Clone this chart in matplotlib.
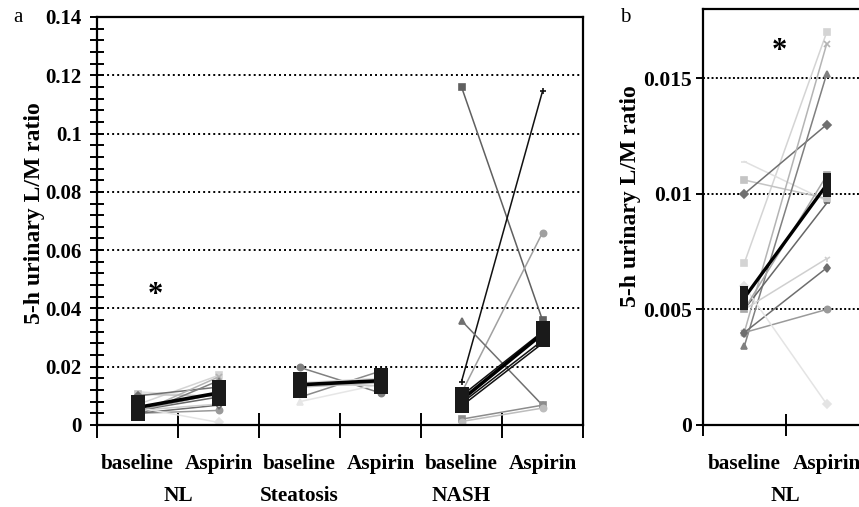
import numpy as np
import matplotlib
matplotlib.use('Agg')
import matplotlib.pyplot as plt
from matplotlib.path import Path
from matplotlib.ticker import MultipleLocator
import matplotlib.transforms as mtransforms

plt.rcParams['font.family'] = ['Liberation Serif', 'DejaVu Serif']

# Individual subjects, baseline -> aspirin (5-h urinary L/M ratio)
nl_base = [0.0070, 0.0114, 0.0106, 0.0100, 0.0040, 0.0034, 0.0040, 0.0040, 0.0050, 0.0050, 0.0060, 0.0050]
nl_asp = [0.0170, 0.0097, 0.0098, 0.0130, 0.0165, 0.0152, 0.0050, 0.0068, 0.0072, 0.0096, 0.0009, 0.0108]
st_base = [0.0198, 0.0095, 0.0080, 0.0140, 0.0130, 0.0145]
st_asp = [0.0110, 0.0185, 0.0140, 0.0135, 0.0145, 0.0160]
na_base = [0.1160, 0.0149, 0.0110, 0.0358, 0.0020, 0.0012, 0.0075, 0.0100, 0.0065]
na_asp = [0.0360, 0.1145, 0.0660, 0.0068, 0.0068, 0.0058, 0.0290, 0.0320, 0.0280]

# Group summaries (black boxes)
a_mean_base = [0.0060, 0.0138, 0.0086]
a_mean_asp = [0.0110, 0.0152, 0.0313]
b_mean = [0.0055, 0.0104]

groups = ['NL', 'Steatosis', 'NASH']
conditions = ['baseline', 'Aspirin']

# per-subject styles (marker, colour)
nl_style = [('s', '#d4d4d4'), ('_', '#e0e0e0'), ('s', '#c4c4c4'), ('D', '#707070'),
            ('x', '#b4b4b4'), ('^', '#808080'), ('o', '#9a9a9a'), ('d', '#6e6e6e'),
            ('1', '#cfcfcf'), ('_', '#666666'), ('D', '#e4e4e4'), ('s', '#a8a8a8')]
st_style = [('o', '#808080'), ('_', '#8a8a8a'), ('^', '#e6e6e6'), ('_', '#cccccc'),
            ('s', '#b8b8b8'), ('o', '#d8d8d8')]
na_style = [('s', '#606060'), ('+', '#111111'), ('o', '#a0a0a0'), ('^', '#707070'),
            ('s', '#8c8c8c'), ('o', '#bdbdbd'), ('_', '#111111'), ('_', '#111111'), ('_', '#111111')]


def rect_marker(w_over_h):
    hw = 0.5 * w_over_h
    return Path([(-hw, -0.5), (hw, -0.5), (hw, 0.5), (-hw, 0.5), (-hw, -0.5)],
                [Path.MOVETO, Path.LINETO, Path.LINETO, Path.LINETO, Path.CLOSEPOLY])


def draw_subjects(ax, x0, base, asp, styles):
    for b, a, (m, c) in zip(base, asp, styles):
        ax.plot([x0, x0 + 1], [b, a], color=c, linewidth=1.1, marker=m,
                markersize=4.5, markeredgewidth=1.2, markerfacecolor=c,
                markeredgecolor=c, zorder=2)


def style_axis(ax):
    for s in ax.spines.values():
        s.set_linewidth(1.6)
        s.set_color('black')


fig = plt.figure(figsize=(8.59, 5.07), dpi=100)

# ---------------- panel a ----------------
ax = fig.add_axes([97 / 859, 82 / 507, 486 / 859, 408 / 507])
draw_subjects(ax, 0, nl_base, nl_asp, nl_style)
draw_subjects(ax, 2, st_base, st_asp, st_style)
draw_subjects(ax, 4, na_base, na_asp, na_style)
for g in range(3):
    ax.plot([2 * g, 2 * g + 1], [a_mean_base[g], a_mean_asp[g]], color='black',
            linewidth=2.6, marker=rect_marker(15 / 26), markersize=18.7,
            markeredgewidth=0, markerfacecolor='#1a1a1a', zorder=4)

ax.set_xlim(-0.5, 5.5)
ax.set_ylim(0, 0.14)
ax.set_yticks(np.arange(0, 0.141, 0.02))
ax.set_yticklabels(['0', '0.02', '0.04', '0.06', '0.08', '0.1', '0.12', '0.14'],
                   fontsize=15, fontweight='bold')
ax.yaxis.set_minor_locator(MultipleLocator(0.004))
ax.set_xticks(np.arange(-0.5, 5.6, 1.0))
ax.set_xticklabels([])
ax.tick_params(axis='y', which='both', direction='inout', length=10, width=1.4, pad=6)
ax.tick_params(axis='x', direction='inout', length=18, width=1.4)
for v in np.arange(0.02, 0.121, 0.02):
    ax.axhline(v, color='black', linewidth=1.4, linestyle=(0, (1, 1.6)), zorder=1)
style_axis(ax)

trans = mtransforms.blended_transform_factory(ax.transData, ax.transAxes)
for i in range(6):
    ax.text(i, -0.096, conditions[i % 2], transform=trans, ha='center', va='center',
            fontsize=15.3, fontweight='bold')
for xg, g in zip([0.5, 2.0, 4.0], groups):
    ax.text(xg, -0.174, g, transform=trans, ha='center', va='center',
            fontsize=15.3, fontweight='bold')
ax.text(0.22, 0.0443, '*', ha='center', va='center', fontsize=22, fontweight='bold')
ax.set_ylabel('5-h urinary L/M ratio', fontsize=17, fontweight='bold')
ax.yaxis.set_label_coords(-0.108, 0.52)

# ---------------- panel b ----------------
bx = fig.add_axes([703 / 859, 82 / 507, 165 / 859, 416 / 507])
draw_subjects(bx, 0, nl_base, nl_asp, nl_style)
bx.plot([0, 1], b_mean, color='black', linewidth=2.4, marker=rect_marker(8 / 23),
        markersize=16.6, markeredgewidth=0, markerfacecolor='#1a1a1a', zorder=4)
bx.set_xlim(-0.5, 1.5)
bx.set_ylim(0, 0.018)
bx.set_yticks([0, 0.005, 0.01, 0.015])
bx.set_yticklabels(['0', '0.005', '0.01', '0.015'], fontsize=15.5, fontweight='bold')
bx.set_xticks([-0.5, 0.5, 1.5])
bx.set_xticklabels([])
bx.tick_params(axis='y', direction='out', length=5, width=1.4, pad=3)
bx.tick_params(axis='x', direction='inout', length=16, width=1.4)
for v in [0.005, 0.01, 0.015]:
    bx.axhline(v, color='black', linewidth=1.4, linestyle=(0, (1, 1.2)), zorder=1)
style_axis(bx)

trans_b = mtransforms.blended_transform_factory(bx.transData, bx.transAxes)
for i in range(2):
    bx.text(i, -0.094, conditions[i], transform=trans_b, ha='center', va='center',
            fontsize=15.3, fontweight='bold')
bx.text(0.5, -0.171, groups[0], transform=trans_b, ha='center', va='center',
        fontsize=15.3, fontweight='bold')
bx.text(0.43, 0.01617, '*', ha='center', va='center', fontsize=22, fontweight='bold')
bx.set_ylabel('5-h urinary L/M ratio', fontsize=17, fontweight='bold')
bx.yaxis.set_label_coords(-0.378, 0.55)

fig.text(13 / 859, 1 - 17 / 507, 'a', fontsize=15, ha='left', va='center')
fig.text(620 / 859, 1 - 17 / 507, 'b', fontsize=15, ha='left', va='center')

fig.savefig('out.png', dpi=100)
